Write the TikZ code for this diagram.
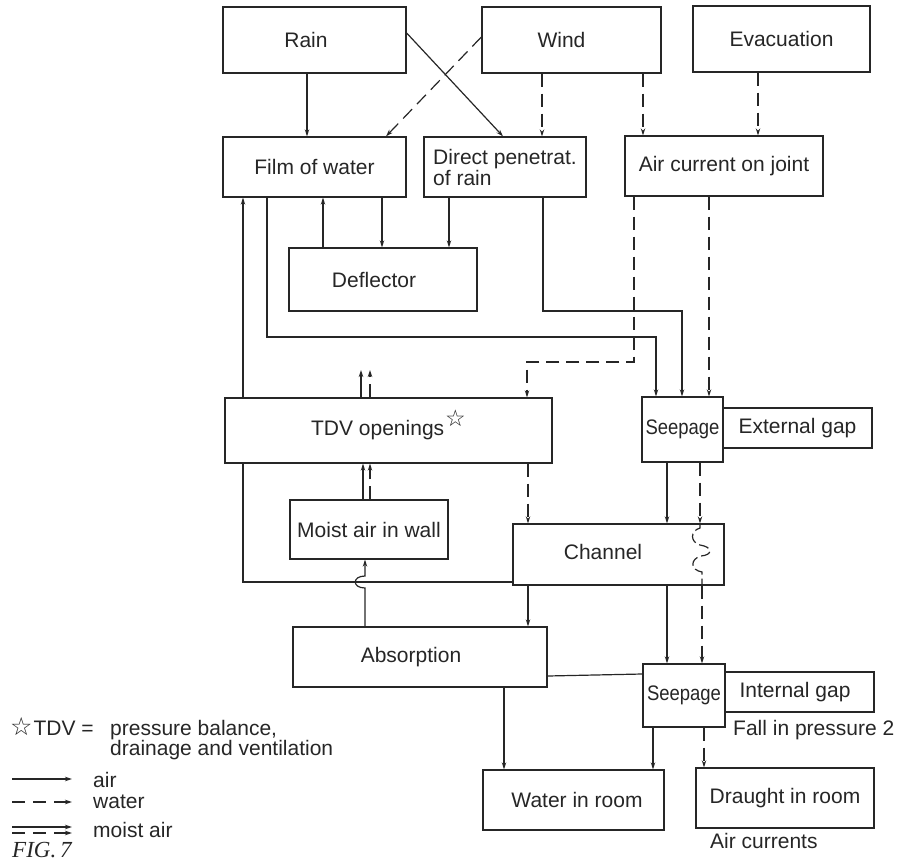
\documentclass[tikz,border=0pt]{standalone}
\usepackage{fontspec}
\usepackage{graphicx}
\setmainfont{Liberation Sans}
\newfontfamily\symfont{DejaVu Sans}
\newfontfamily\capfont{Liberation Serif}
\usetikzlibrary{arrows.meta,calc}

\begin{document}
\begin{tikzpicture}[x=1pt,y=-1pt,
  box/.style={draw=black!85, line width=1.3pt, rectangle, inner sep=0pt, fill=white,
    text=black!85, font=\fontsize{21}{21}\selectfont},
  lbl/.style={text=black!85, inner sep=0pt, font=\fontsize{21}{21}\selectfont},
  air/.style={draw=black!85, line width=1.2pt, -{Stealth[length=7pt,width=4.5pt]}},
  water/.style={air, dash pattern=on 13pt off 7pt},
  plain/.style={draw=black!85, line width=1.2pt},
]
\useasboundingbox (0,0) rectangle (906,868);

% ---- boxes ----
\node[box, minimum width=183pt, minimum height=66pt] (rain) at (314.5,40) {};
\node[lbl] (raintxt) at (306,40) {Rain};
\node[box, minimum width=179pt, minimum height=66pt] (wind) at (571.5,40) {};
\node[lbl] (windtxt) at (561.5,40) {Wind};
\node[box, minimum width=177pt, minimum height=66pt] (evac) at (781.5,39) {Evacuation};

\node[box, minimum width=183pt, minimum height=60pt] (film) at (314.5,167) {Film of water};
\node[box, minimum width=162pt, minimum height=60pt, align=left] (direct) at (505,167) {Direct penetrat.\\of rain};
\node[box, minimum width=198pt, minimum height=60pt] (aircur) at (724,166) {Air current on joint};

\node[box, minimum width=188pt, minimum height=63pt] (defl) at (383,279.5) {};
\node[lbl] (defltxt) at (374,280) {Deflector};

\node[box, minimum width=327pt, minimum height=65pt] (tdv) at (388.5,430.5)
  {TDV openings\kern1pt\smash{\raisebox{9pt}{\symfont\fontsize{23}{23}\selectfont ☆}}};
\node[box, minimum width=81pt, minimum height=65pt] (seepA) at (682.5,429.5)
  {\scalebox{0.88}[1]{Seepage}};
\node[box, minimum width=149pt, minimum height=40pt] (extgap) at (797.5,428) {};
\node[lbl] (extgaptxt) at (797.5,428) {External gap};

\node[box, minimum width=158pt, minimum height=59pt] (moist) at (369,529.5) {Moist air in wall};
\node[box, minimum width=211pt, minimum height=61pt] (chan) at (618.5,554.5) {};
\node[lbl] (chantxt) at (603,552) {Channel};

\node[box, minimum width=254pt, minimum height=60pt] (absorb) at (420,657) {};
\node[lbl] (absorbtxt) at (411,657) {Absorption};
\node[box, minimum width=82pt, minimum height=63pt] (seepB) at (684,695.5)
  {\scalebox{0.88}[1]{Seepage}};
\node[box, minimum width=149pt, minimum height=40pt] (intgap) at (799.5,692) {};
\node[lbl] (intgaptxt) at (795,692) {Internal gap};
\node[lbl, anchor=base west] (fall) at (733,735) {Fall in pressure 2};

\node[box, minimum width=181pt, minimum height=60pt] (wroom) at (573.5,800) {};
\node[lbl] (wroomtxt) at (577,800) {Water in room};
\node[box, minimum width=178pt, minimum height=60pt] (draught) at (785,798) {Draught in room};
\node[lbl, anchor=base west] (aircurrents) at (710,848) {Air currents};

% ---- connectors, top rows ----
\draw[air] (307,0 |- rain.south) -- (307,0 |- film.north);
\draw[air] (rain.east |- 0,33) -- (503,0 |- direct.north);
\draw[water] (wind.west |- 0,37) -- (386,0 |- film.north);
\draw[water] (542,0 |- wind.south) -- (542,0 |- direct.north);
\draw[water] (643,0 |- wind.south) -- (643,0 |- aircur.north);
\draw[water] (758,0 |- evac.south) -- (758,0 |- aircur.north);

% ---- film of water, deflector, direct penetration ----
\draw[air] (323,0 |- defl.north) -- (323,0 |- film.south);
\draw[air] (382,0 |- film.south) -- (382,0 |- defl.north);
\draw[air] (449,0 |- direct.south) -- (449,0 |- defl.north);
\draw[air] (543,0 |- direct.south) -- (543,311) -- (682,311) -- (682,0 |- seepA.north);
\draw[air] (267,0 |- film.south) -- (267,337) -- (656,337) -- (656,0 |- seepA.north);

% ---- air current on joint ----
\draw[water] (709,0 |- aircur.south) -- (709,0 |- seepA.north);
\draw[water] (634,0 |- aircur.south) -- (634,362) -- (527,362) -- (527,0 |- tdv.north);

% ---- TDV openings ----
\coordinate (tdvout) at (365,370);
\draw[air] (361,0 |- tdv.north) -- (361,0 |- tdvout);
\draw[water] (370,0 |- tdv.north) -- (370,0 |- tdvout);
\draw[air] (363,0 |- moist.north) -- (363,0 |- tdv.south);
\draw[water] (370,0 |- moist.north) -- (370,0 |- tdv.south);
\draw[water] (528,0 |- tdv.south) -- (528,0 |- chan.north);

% return from channel up to the film of water
\draw[plain] (chan.west |- 0,582) -- (243,582) -- (243,0 |- tdv.south);
\draw[air] (243,0 |- tdv.north) -- (243,0 |- film.south);

% absorption up to moist air, hopping over the return line
\draw[air] (365,0 |- absorb.north) -- (365,588) .. controls (352,588) and (352,576) .. (365,576)
  -- (365,0 |- moist.south);
\draw[air] (528,0 |- chan.south) -- (528,0 |- absorb.north);

% ---- seepage through the external gap ----
\draw[air] (667,0 |- seepA.south) -- (667,0 |- chan.north);
\draw[water] (700,0 |- seepA.south) -- (700,0 |- chan.north);
\draw[plain, dash pattern=on 10pt off 4pt] (700,0 |- chan.north) -- (700,528)
  .. controls (690,531) and (690,542) .. (700,545)
  .. controls (713,547) and (713,555) .. (701,556)
  .. controls (690,559) and (690,570) .. (702,572) -- (702,0 |- chan.south);
\draw[air] (667,0 |- chan.south) -- (667,0 |- seepB.north);
\draw[water] (702,0 |- chan.south) -- (702,0 |- seepB.north);

% ---- into the room ----
\draw[plain] (absorb.east |- 0,676) -- (seepB.west |- 0,674);
\draw[air] (504,0 |- absorb.south) -- (504,0 |- wroom.north);
\draw[air] (653,0 |- seepB.south) -- (653,0 |- wroom.north);
\draw[water] (704,0 |- seepB.south) -- (704,0 |- draught.north);

% ---- key ----
\node[lbl, anchor=base west] (tdvkey) at (10,735)
  {{\symfont\fontsize{25}{25}\selectfont ☆}\kern1pt TDV =};
\node[lbl, anchor=base west] (keyA) at (110,735) {pressure balance,};
\node[lbl, anchor=base west] (keyB) at (110,755) {drainage and ventilation};

\coordinate (airS) at (12,779);   \coordinate (airE) at (72,779);
\coordinate (watS) at (12,802);   \coordinate (watE) at (72,802);
\coordinate (mstS) at (12,827);   \coordinate (mstE) at (72,827);
\coordinate (mdS) at (12,833);    \coordinate (mdE) at (72,833);
\draw[air] (airS) -- (airE);
\draw[air, dash pattern=on 13pt off 8pt] (watS) -- (watE);
\draw[air] (mstS) -- (mstE);
\draw[air, dash pattern=on 13pt off 8pt] (mdS) -- (mdE);
\node[lbl, anchor=base west] (keyair) at (93,787) {air};
\node[lbl, anchor=base west] (keywater) at (93,808) {water};
\node[lbl, anchor=base west] (keymoist) at (93,837) {moist air};

\node[anchor=base west, inner sep=0pt, text=black!85,
  font=\capfont\itshape\fontsize{23}{23}\selectfont] (fig) at (12,857) {FIG.\,7};
\end{tikzpicture}
\end{document}
